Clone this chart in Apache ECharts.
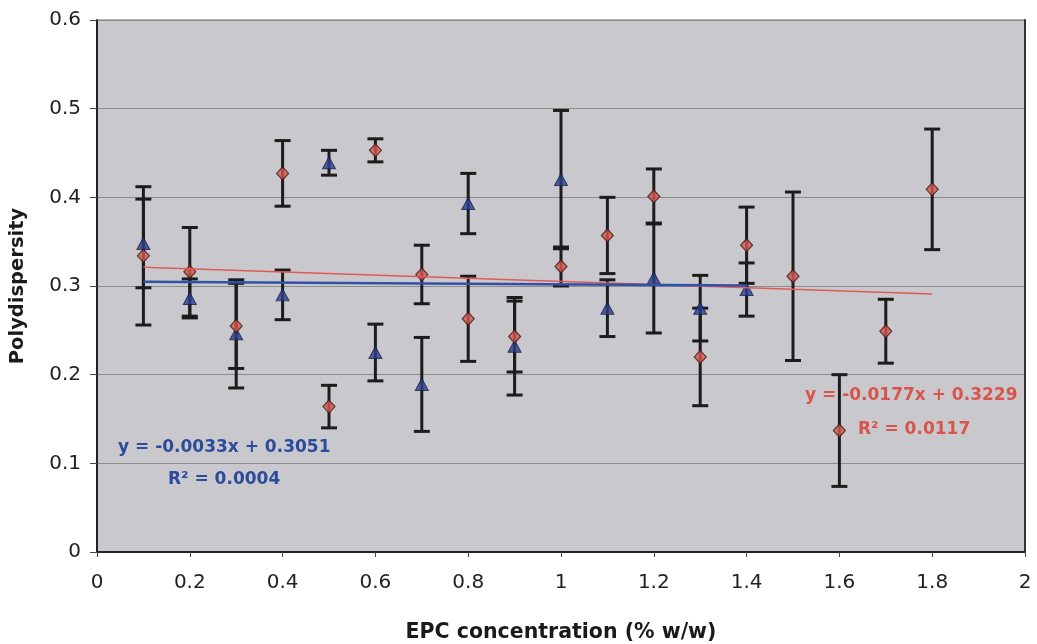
<!DOCTYPE html>
<html>
<head>
<meta charset="utf-8">
<script src="https://cdn.jsdelivr.net/npm/echarts@6/dist/echarts.min.js"></script>
<style>
html,body{margin:0;padding:0;background:#fff;}
#chart{width:1037px;height:644px;}
</style>
</head>
<body>
<div id="chart"></div>
<script>
// ---- data ----
const redX   = [0.1,0.2,0.3,0.4,0.5,0.6,0.7,0.8,0.9,1.0,1.1,1.2,1.3,1.4,1.5,1.6,1.7,1.8];
const redY   = [0.334,0.316,0.255,0.427,0.164,0.453,0.313,0.263,0.243,0.322,0.357,0.401,0.220,0.346,0.311,0.137,0.249,0.409];
const redErr = [0.078,0.050,0.048,0.037,0.024,0.013,0.033,0.048,0.040,0.022,0.043,0.031,0.055,0.043,0.095,0.063,0.036,0.068];

const blueX   = [0.1,0.2,0.3,0.4,0.5,0.6,0.7,0.8,0.9,1.0,1.1,1.2,1.3,1.4];
const blueY   = [0.348,0.286,0.246,0.290,0.439,0.225,0.189,0.393,0.232,0.420,0.275,0.309,0.275,0.296];
const blueErr = [0.050,0.022,0.061,0.028,0.014,0.032,0.053,0.034,0.055,0.078,0.032,0.062,0.037,0.030];

const redTrend  = {slope:-0.0177, intercept:0.3229, r2:'0.0117', xFrom:0.1, xTo:1.8};
const blueTrend = {slope:-0.0033, intercept:0.3051, r2:'0.0004', xFrom:0.1, xTo:1.4};

const xTicks = {min:0, max:2, interval:0.2};
const yTicks = {min:0, max:0.6, interval:0.1};

// ---- build ----
const RED = '#d9574c', BLUE = '#2c3f8e';
const FONT = '"DejaVu Sans", "Liberation Sans", Arial, sans-serif';

function errData(xs, ys, es){ return xs.map((x,i)=>[x, ys[i]-es[i], ys[i]+es[i]]); }
function trendData(t){ return [[t.xFrom, t.slope*t.xFrom+t.intercept],[t.xTo, t.slope*t.xTo+t.intercept]]; }
function eqText(t){ return 'y = ' + t.slope.toFixed(4) + 'x + ' + t.intercept.toFixed(4); }

function errRender(params, api){
  const x = api.value(0), lo = api.value(1), hi = api.value(2);
  const pLo = api.coord([x, lo]), pHi = api.coord([x, hi]);
  const cap = 8;
  const st = {stroke:'#1c1c1c', lineWidth:3};
  return {type:'group', children:[
    {type:'line', shape:{x1:pLo[0],y1:pLo[1],x2:pHi[0],y2:pHi[1]}, style:st},
    {type:'line', shape:{x1:pLo[0]-cap,y1:pLo[1],x2:pLo[0]+cap,y2:pLo[1]}, style:st},
    {type:'line', shape:{x1:pHi[0]-cap,y1:pHi[1],x2:pHi[0]+cap,y2:pHi[1]}, style:st}
  ]};
}

const chart = echarts.init(document.getElementById('chart'), null, {renderer:'canvas'});
const fmt1 = v => String(+v.toFixed(1));

chart.setOption({
  animation:false,
  backgroundColor:'#ffffff',
  grid:{left:97, top:20, width:928, height:532, show:true, backgroundColor:'#c9c9cd', borderColor:'#6a6a6a', borderWidth:1, containLabel:false, outerBoundsMode:'none'},
  xAxis:{
    type:'value', min:xTicks.min, max:xTicks.max, interval:xTicks.interval,
    name:'EPC concentration (% w/w)', nameLocation:'middle', nameGap:70,
    nameTextStyle:{fontFamily:FONT, fontSize:20.5, fontWeight:'bold', color:'#1a1a1a'},
    axisLine:{show:true, onZero:false, lineStyle:{color:'#222', width:2}},
    axisTick:{show:true, inside:false, length:5, lineStyle:{color:'#444'}},
    axisLabel:{fontFamily:FONT, fontSize:20, color:'#222', margin:21, formatter:fmt1},
    splitLine:{show:false}
  },
  yAxis:[{
    type:'value', min:yTicks.min, max:yTicks.max, interval:yTicks.interval,
    name:'Polydispersity', nameLocation:'middle', nameGap:69, nameRotate:90,
    nameTextStyle:{fontFamily:FONT, fontSize:19.5, fontWeight:'bold', color:'#1a1a1a'},
    axisLine:{show:true, onZero:false, lineStyle:{color:'#222', width:2}},
    axisTick:{show:true, inside:false, length:7, lineStyle:{color:'#444'}},
    axisLabel:{fontFamily:FONT, fontSize:20, color:'#222', margin:16, formatter:fmt1},
    splitLine:{show:true, lineStyle:{color:'#8c8c8c', width:1}}
  },{
    type:'value', position:'right', min:yTicks.min, max:yTicks.max, interval:yTicks.interval,
    axisLine:{show:true, onZero:false, lineStyle:{color:'#333', width:2}},
    axisTick:{show:false}, axisLabel:{show:false}, splitLine:{show:false}
  }],
  series:[
    {type:'custom', renderItem:errRender, data:errData(redX, redY, redErr), encode:{x:0, y:[1,2]}, z:2, silent:true},
    {type:'custom', renderItem:errRender, data:errData(blueX, blueY, blueErr), encode:{x:0, y:[1,2]}, z:2, silent:true},
    {type:'scatter', data:blueX.map((x,i)=>[x, blueY[i]]), symbol:'triangle', symbolSize:[13,12],
      itemStyle:{color:BLUE, borderColor:'#1a1f4a', borderWidth:1}, z:3},
    {type:'scatter', data:redX.map((x,i)=>[x, redY[i]]), symbol:'diamond', symbolSize:[12,13],
      itemStyle:{color:RED, borderColor:'#3a1a1a', borderWidth:1.2}, z:4},
    {type:'line', data:trendData(redTrend), symbol:'none', lineStyle:{color:'#e05a5a', width:1.6}, z:5, silent:true},
    {type:'line', data:trendData(blueTrend), symbol:'none', lineStyle:{color:'#3150a6', width:2.6}, z:6, silent:true}
  ],
  graphic:[
    {type:'text', left:118, top:439, style:{text:eqText(blueTrend), font:'bold 17px '+FONT, fill:'#2e4a9c'}},
    {type:'text', left:168, top:471, style:{text:'R² = '+blueTrend.r2, font:'bold 17px '+FONT, fill:'#2e4a9c'}},
    {type:'text', left:805, top:387, style:{text:eqText(redTrend), font:'bold 17px '+FONT, fill:'#d9544c'}},
    {type:'text', left:858, top:421, style:{text:'R² = '+redTrend.r2, font:'bold 17px '+FONT, fill:'#d9544c'}}
  ]
});
</script>
</body>
</html>
